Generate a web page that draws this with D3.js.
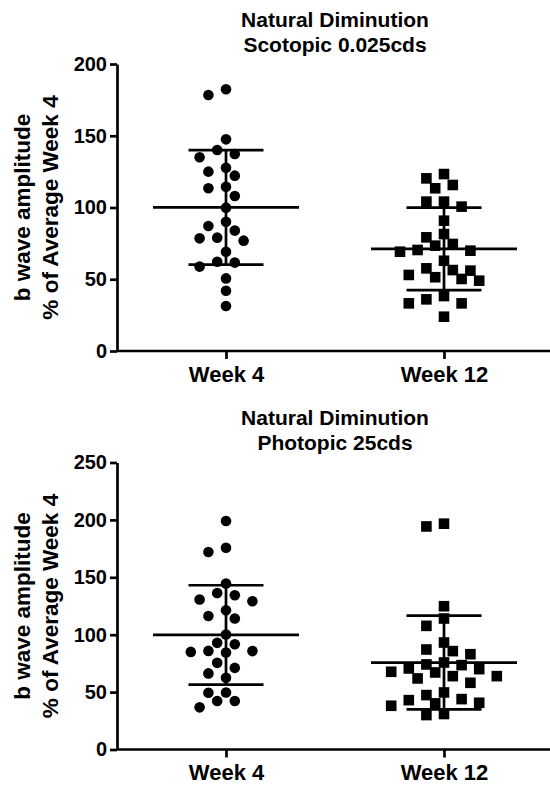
<!DOCTYPE html>
<html>
<head>
<meta charset="utf-8">
<script src="https://cdn.jsdelivr.net/npm/d3@7"></script>
<style>
  body { margin: 0; background: #fff; }
  svg text { font-family: "Liberation Sans", Arial, sans-serif; font-weight: bold; fill: #000; }
</style>
</head>
<body>
<svg width="550" height="786"></svg>
<script>
// groups on the x axis
var groups = ["Week 4", "Week 12"];

// Scotopic 0.025cds, % of average week 4
var scotopicWeek4 = [178.4, 182.4, 147.5, 137.3, 135.0, 140.1, 127.7, 125.0, 122.2, 114.5,
    113.4, 108.0, 99.9, 90.1, 87.1, 83.9, 78.5, 76.9, 79.0, 69.2, 62.2, 61.6, 58.8, 50.6, 42.0, 31.4];
var scotopicWeek12 = [120.3, 113.4, 115.7, 123.3, 104.1, 100.6, 104.1, 90.8, 79.2, 81.5,
    74.6, 69.9, 69.2, 70.4, 73.4, 62.9, 57.6, 56.0, 51.4, 49.0, 50.2, 53.0, 56.4, 38.3, 33.2, 36.0, 33.2, 23.9];

// Photopic 25cds
var photopicWeek4 = [199.0, 172.0, 175.8, 144.5, 134.3, 129.1, 130.6, 136.3, 116.3, 121.3,
    114.1, 100.2, 91.7, 85.9, 84.5, 85.0, 85.7, 92.9, 75.5, 71.1, 66.3, 62.4, 49.7, 49.4, 42.2, 42.2, 36.7];
var photopicWeek12 = [194.3, 196.7, 124.8, 114.1, 107.7, 93.2, 85.7, 83.0, 87.1, 74.1,
    70.6, 67.7, 63.9, 61.9, 63.9, 67.1, 58.1, 70.0, 73.5, 75.8, 43.9, 49.7, 40.2, 38.1, 47.4, 30.0, 30.9, 40.7, 43.0];

var scotopicTicks = [0, 50, 100, 150, 200];
var photopicTicks = [0, 50, 100, 150, 200, 250];

var panels = [
    { title: ["Natural Diminution", "Scotopic 0.025cds"], ticks: scotopicTicks, series: [scotopicWeek4, scotopicWeek12] },
    { title: ["Natural Diminution", "Photopic 25cds"], ticks: photopicTicks, series: [photopicWeek4, photopicWeek12] }
];

var svg = d3.select("svg");
var panelHeight = 398.5;
var plotLeft = 117, plotRight = 553, plotTop = 64, plotBottom = 351;
var r = 5.3, slot = 8.8, minGap = 11.8;

var x = d3.scalePoint().domain(groups).range([plotLeft, plotRight]).padding(0.5);

// spread points sideways in slots so they don't overlap (like prism scatter)
function dodge(values, y) {
    var order = d3.range(values.length).sort(function (a, b) { return values[b] - values[a]; });
    var placed = [];
    var offs = [];
    order.forEach(function (i) {
        var py = y(values[i]);
        for (var k = 0; k < 20; k++) {
            var cands = k == 0 ? [0] : [-k, k];
            var found = null;
            for (var c = 0; c < cands.length; c++) {
                var px = cands[c] * slot;
                var ok = placed.every(function (p) {
                    return Math.hypot(p.x - px, p.y - py) >= minGap;
                });
                if (ok) { found = px; break; }
            }
            if (found !== null) {
                placed.push({ x: found, y: py });
                offs[i] = found;
                break;
            }
        }
    });
    return offs;
}

panels.forEach(function (panel, pi) {
    var g = svg.append("g").attr("transform", "translate(0," + (pi * panelHeight) + ")");

    var y = d3.scaleLinear()
        .domain([0, d3.max(panel.ticks)])
        .range([plotBottom, plotTop]);

    // title
    g.append("text")
        .attr("text-anchor", "middle")
        .style("font-size", "21px")
        .selectAll("tspan")
        .data(panel.title)
        .enter().append("tspan")
        .attr("x", (plotLeft + plotRight) / 2)
        .attr("y", function (d, i) { return 26.5 + i * 25; })
        .text(function (d) { return d; });

    // y axis label
    g.append("text")
        .attr("transform", "translate(0," + ((plotTop + plotBottom) / 2) + ") rotate(-90)")
        .attr("text-anchor", "middle")
        .style("font-size", "22.5px")
        .selectAll("tspan")
        .data(["b wave amplitude", "% of Average Week 4"])
        .enter().append("tspan")
        .attr("x", 0)
        .attr("y", function (d, i) { return 29.5 + i * 28; })
        .text(function (d) { return d; });

    // axes
    var yAxis = g.append("g")
        .attr("transform", "translate(" + plotLeft + ",0)")
        .call(d3.axisLeft(y).tickValues(panel.ticks).tickSize(7).tickPadding(3).tickSizeOuter(0));
    yAxis.selectAll("text").style("font-size", "20px");

    var xAxis = g.append("g")
        .attr("transform", "translate(0," + plotBottom + ")")
        .call(d3.axisBottom(x).tickSize(8).tickPadding(6).tickSizeOuter(0));
    xAxis.select(".domain").attr("d", "M" + plotLeft + ",0H" + plotRight);
    xAxis.selectAll("text").style("font-size", "22px").attr("dy", "0.76em");

    g.selectAll(".domain, .tick line").attr("stroke", "#000").attr("stroke-width", 2.7);

    // points
    panel.series.forEach(function (vals, si) {
        var cx = x(groups[si]);
        var offs = dodge(vals, y);
        var pts = g.append("g");
        if (si == 0) {
            pts.selectAll("circle")
                .data(vals)
                .enter().append("circle")
                .attr("cx", function (d, i) { return cx + offs[i]; })
                .attr("cy", function (d) { return y(d); })
                .attr("r", r)
                .attr("fill", "#000");
        } else {
            pts.selectAll("rect")
                .data(vals)
                .enter().append("rect")
                .attr("x", function (d, i) { return cx + offs[i] - r; })
                .attr("y", function (d) { return y(d) - r; })
                .attr("width", 2 * r)
                .attr("height", 2 * r)
                .attr("fill", "#000");
        }

        // mean and SD
        var m = d3.mean(vals), sd = d3.deviation(vals);
        var bars = g.append("g").attr("stroke", "#000").attr("stroke-width", 2.7);
        bars.append("line")
            .attr("x1", cx - 73).attr("x2", cx + 73)
            .attr("y1", y(m)).attr("y2", y(m));
        bars.append("line")
            .attr("x1", cx).attr("x2", cx)
            .attr("y1", y(m + sd)).attr("y2", y(m - sd));
        [m + sd, m - sd].forEach(function (v) {
            bars.append("line")
                .attr("x1", cx - 37.5).attr("x2", cx + 37.5)
                .attr("y1", y(v)).attr("y2", y(v));
        });
    });
});
</script>
</body>
</html>
